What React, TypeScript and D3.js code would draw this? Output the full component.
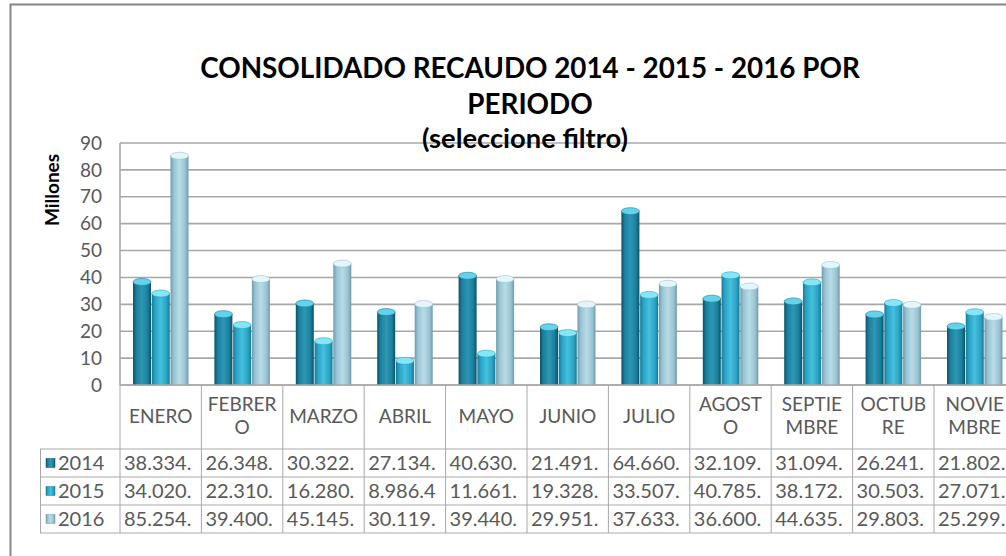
import React, { useEffect, useRef } from 'react';
import * as d3 from 'd3';

const months = ['ENERO', 'FEBRERO', 'MARZO', 'ABRIL', 'MAYO', 'JUNIO', 'JULIO', 'AGOSTO', 'SEPTIEMBRE', 'OCTUBRE', 'NOVIEMBRE'];
const monthLabelLines = [['ENERO'], ['FEBRER', 'O'], ['MARZO'], ['ABRIL'], ['MAYO'], ['JUNIO'], ['JULIO'], ['AGOST', 'O'], ['SEPTIE', 'MBRE'], ['OCTUB', 'RE'], ['NOVIE', 'MBRE']];
const years = ['2014', '2015', '2016'];
const values2014 = [38.334, 26.348, 30.322, 27.134, 40.630, 21.491, 64.660, 32.109, 31.094, 26.241, 21.802];
const values2015 = [34.020, 22.310, 16.280, 8.9864, 11.661, 19.328, 33.507, 40.785, 38.172, 30.503, 27.071];
const values2016 = [85.254, 39.400, 45.145, 30.119, 39.440, 29.951, 37.633, 36.600, 44.635, 29.803, 25.299];
const yTicks = [0, 10, 20, 30, 40, 50, 60, 70, 80, 90];
const titleLines = ['CONSOLIDADO RECAUDO 2014 - 2015 - 2016 POR', 'PERIODO'];
const subtitle = '(seleccione filtro)';
const yAxisTitle = 'Millones';

const seriesValues = [values2014, values2015, values2016];
const seriesColors = [
  { edge: '#0c5168', mid: '#1a7f9c', light: '#2f97b5', cap: '#63d2ea' },
  { edge: '#177a98', mid: '#2aa3c4', light: '#45c0de', cap: '#86e6f6' },
  { edge: '#6f9bab', mid: '#99c3d2', light: '#b8dce7', cap: '#e4f6fa' },
];

const fmtTable = (v: number) => d3.format(',')(Math.round(v * 1e6)).replace(/,/g, '.').slice(0, 7);

export default function App() {
  const ref = useRef<SVGSVGElement | null>(null);

  useEffect(() => {
    const svg = d3.select(ref.current);
    svg.selectAll('*').remove();
    const W = 1006, H = 556;
    const font = 'Lato, "Open Sans", sans-serif';
    const gray = '#595959';
    const lineGray = '#a8a8a8';

    const defs = svg.append('defs');
    seriesColors.forEach((c, i) => {
      const g = defs.append('linearGradient').attr('id', `g${i}`).attr('x1', 0).attr('x2', 1).attr('y1', 0).attr('y2', 0);
      g.append('stop').attr('offset', '0%').attr('stop-color', c.edge);
      g.append('stop').attr('offset', '18%').attr('stop-color', c.mid);
      g.append('stop').attr('offset', '50%').attr('stop-color', c.light);
      g.append('stop').attr('offset', '82%').attr('stop-color', c.mid);
      g.append('stop').attr('offset', '100%').attr('stop-color', c.edge);
    });

    svg.append('rect').attr('width', W).attr('height', H).attr('fill', '#fff');
    svg.append('path').attr('d', `M10.5,${H} V4.5 H${W}`).attr('fill', 'none').attr('stroke', '#858585').attr('stroke-width', 2);

    const x = d3.scaleBand<string>().domain(months).range([120, 120 + 81.4 * months.length]).padding(0);
    const y = d3.scaleLinear().domain([0, 90]).range([385, 143]);
    const xs = d3.scaleBand<string>().domain(years).range([13, 68.5]).paddingInner(0.04);

    svg.append('g').selectAll('line').data(yTicks).join('line')
      .attr('x1', 120).attr('x2', W).attr('y1', d => y(d)).attr('y2', d => y(d))
      .attr('stroke', lineGray).attr('stroke-width', 1.6);

    svg.append('g').selectAll('text').data(yTicks).join('text')
      .attr('x', 102).attr('y', d => y(d)).attr('dy', '0.35em').attr('text-anchor', 'end')
      .attr('font-family', font).attr('font-size', 19).attr('fill', gray).text(d => String(d));

    svg.append('text').attr('transform', 'translate(59,190) rotate(-90)').attr('text-anchor', 'middle')
      .attr('font-family', font).attr('font-weight', 'bold').attr('font-size', 19).attr('fill', '#000').text(yAxisTitle);

    const t1 = svg.append('text').attr('x', 530).attr('y', 78).attr('text-anchor', 'middle')
      .attr('font-family', font).attr('font-weight', 'bold').attr('font-size', 27).attr('fill', '#000').text(titleLines[0]);
    const len1 = (t1.node() as SVGTextElement).getComputedTextLength();
    const tSize = 27 * 660 / len1;
    t1.attr('font-size', tSize);
    svg.append('text').attr('x', 530).attr('y', 114).attr('text-anchor', 'middle')
      .attr('font-family', font).attr('font-weight', 'bold').attr('font-size', tSize).attr('fill', '#000').text(titleLines[1]);
    const st = svg.append('text').attr('x', 525).attr('y', 148).attr('text-anchor', 'middle')
      .attr('font-family', font).attr('font-weight', 'bold').attr('font-size', 20).attr('fill', '#000').text(subtitle);
    const sl = (st.node() as SVGTextElement).getComputedTextLength();
    st.attr('font-size', 20 * 206 / sl);

    const bars = svg.append('g');
    months.forEach((m, mi) => {
      years.forEach((yr, si) => {
        const v = seriesValues[si][mi];
        const bx = (x(m) as number) + (xs(yr) as number);
        const bw = xs.bandwidth();
        bars.append('rect').attr('x', bx).attr('y', y(v)).attr('width', bw).attr('height', y(0) - y(v))
          .attr('fill', `url(#g${si})`);
        bars.append('ellipse').attr('cx', bx + bw / 2).attr('cy', y(v)).attr('rx', bw / 2).attr('ry', 3.5)
          .attr('fill', seriesColors[si].cap).attr('stroke', seriesColors[si].mid).attr('stroke-width', 0.6);
      });
    });

    svg.append('line').attr('x1', 120).attr('x2', W).attr('y1', 385).attr('y2', 385).attr('stroke', lineGray).attr('stroke-width', 1.6);
    svg.append('line').attr('x1', 120).attr('x2', 120).attr('y1', 143).attr('y2', 385).attr('stroke', lineGray).attr('stroke-width', 1.6);

    const headerBottom = 449, rowH = 28;
    const rowsY = years.map((_, i) => headerBottom + i * rowH);
    const tableBottom = headerBottom + years.length * rowH;
    const tg = svg.append('g');
    const bounds = months.map(m => x(m) as number).concat([(x(months[months.length - 1]) as number) + x.bandwidth()]);
    tg.selectAll('line.v').data(bounds).join('line').attr('class', 'v')
      .attr('x1', d => d).attr('x2', d => d).attr('y1', 385).attr('y2', tableBottom)
      .attr('stroke', lineGray).attr('stroke-width', 1);
    tg.append('line').attr('x1', 40.5).attr('x2', 40.5).attr('y1', headerBottom).attr('y2', tableBottom).attr('stroke', lineGray);
    [headerBottom, ...rowsY.map(r => r + rowH)].forEach(yy => {
      tg.append('line').attr('x1', 40).attr('x2', W).attr('y1', yy).attr('y2', yy).attr('stroke', lineGray).attr('stroke-width', 1);
    });

    months.forEach((m, mi) => {
      const lines = monthLabelLines[mi];
      const cx = (x(m) as number) + x.bandwidth() / 2;
      const cy = 416;
      const lh = 23;
      lines.forEach((ln, li) => {
        tg.append('text').attr('x', cx).attr('y', cy + (li - (lines.length - 1) / 2) * lh).attr('dy', '0.35em')
          .attr('text-anchor', 'middle').attr('font-family', font).attr('font-size', 19).attr('fill', gray).text(ln);
      });
    });

    years.forEach((yr, si) => {
      const cy = rowsY[si] + rowH / 2;
      tg.append('rect').attr('x', 46).attr('y', cy - 4.5).attr('width', 9).attr('height', 9).attr('fill', `url(#g${si})`)
        .attr('stroke', seriesColors[si].edge).attr('stroke-width', 0.5);
      tg.append('text').attr('x', 58).attr('y', cy).attr('dy', '0.35em').attr('font-family', font).attr('font-size', 20)
        .attr('fill', gray).text(yr);
      months.forEach((m, mi) => {
        tg.append('text').attr('x', (x(m) as number) + 4).attr('y', cy).attr('dy', '0.35em')
          .attr('font-family', font).attr('font-size', 20).attr('fill', gray).text(fmtTable(seriesValues[si][mi]));
      });
    });
  }, []);

  return <svg ref={ref} width={1006} height={556} style={{ position: 'absolute', left: 0, top: 0, display: 'block' }} />;
}
